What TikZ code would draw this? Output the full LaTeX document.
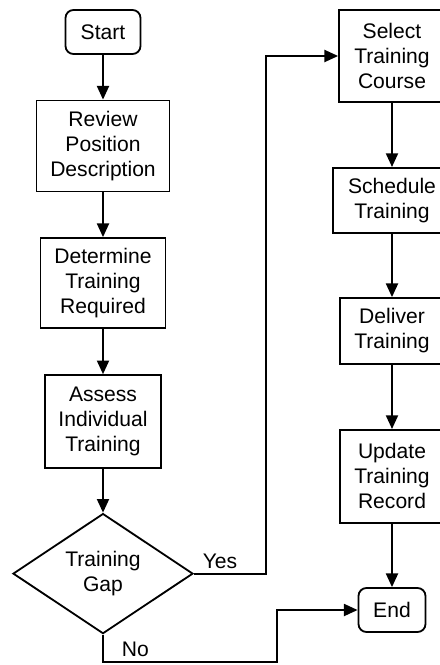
\documentclass[tikz,border=0pt]{standalone}
\usepackage{fontspec}
\setmainfont{Liberation Sans}
\usetikzlibrary{arrows.meta,shapes.geometric}

\begin{document}
\begin{tikzpicture}[line width=1.3pt,>={Triangle[length=3.4mm,width=3mm]},
	every node/.style={font=\fontsize{15}{17.8}\selectfont,align=center,inner sep=0pt},
	stepbox/.style={draw},
	termbox/.style={draw,rounded corners=2mm},
	decide/.style={draw,diamond}]
	\useasboundingbox (0,0) rectangle (11,-16.625);
	\path
	(6.65,0) coordinate (yx)
	(6.925,0) coordinate (nx)
	(0,-16.55) coordinate (ny);
	% left column
	\node[termbox,minimum width=1.875cm,minimum height=1.1cm] (start) at (2.575,-0.8) {Start};
	\node[stepbox,minimum width=3.325cm,minimum height=2.275cm] (review) at (2.575,-3.65) {Review\\Position\\Description};
	\node[stepbox,minimum width=3.125cm,minimum height=2.25cm] (determine) at (2.575,-7.075) {Determine\\Training\\Required};
	\node[stepbox,minimum width=2.9cm,minimum height=2.325cm] (assess) at (2.575,-10.54) {Assess\\Individual\\Training};
	\node[decide,minimum width=4.5cm,minimum height=2.925cm] (gap) at (2.575,-14.34) {Training\\Gap};
	% right column
	\node[stepbox,minimum width=2.65cm,minimum height=2.3cm] (select) at (9.8,-1.4) {Select\\Training\\Course};
	\node[stepbox,minimum width=2.95cm,minimum height=1.625cm] (schedule) at (9.8,-5.01) {Schedule\\Training};
	\node[stepbox,minimum width=2.6cm,minimum height=1.65cm] (deliver) at (9.8,-8.275) {Deliver\\Training};
	\node[stepbox,minimum width=2.6cm,minimum height=2.325cm] (update) at (9.8,-11.91) {Update\\Training\\Record};
	\node[termbox,minimum width=1.675cm,minimum height=1.1cm] (end) at (9.8,-15.25) {End};
	\draw[->] (start)--(review);
	\draw[->] (review)--(determine);
	\draw[->] (determine)--(assess);
	\draw[->] (assess)--(gap);
	\draw[->] (select)--(schedule);
	\draw[->] (schedule)--(deliver);
	\draw[->] (deliver)--(update);
	\draw[->] (update)--(end);
	\draw[->] (gap.east)--(gap.east-|yx)|-(select.west);
	\draw[->] (gap.south)--(gap.south|-ny)-|(nx|-end.west)--(end.west);
	\node[anchor=south west] (yes) at ([shift={(0.2,0.1)}]gap.east) {Yes};
	\node[anchor=south west] (no) at ([shift={(0.45,0.1)}]gap.south|-ny) {No};
\end{tikzpicture}
\end{document}
